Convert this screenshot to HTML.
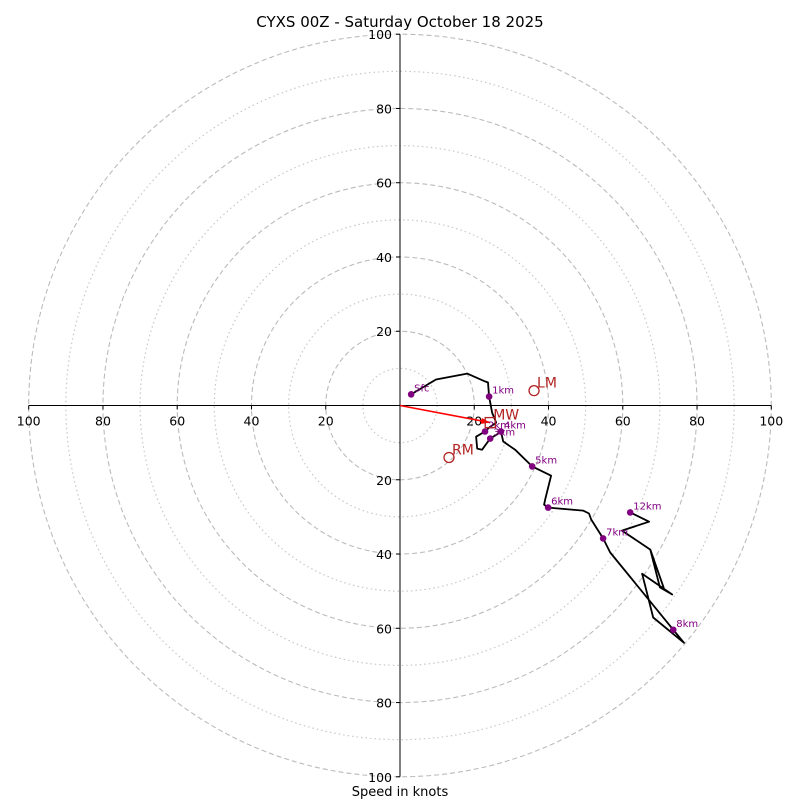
<!DOCTYPE html>
<html><head><meta charset="utf-8"><style>
body{margin:0;background:#fff}
svg{font-family:"DejaVu Sans","Liberation Sans",sans-serif}
</style></head><body>
<svg id="c" width="800" height="800" viewBox="0 0 800 800">
<text x="400" y="27" font-size="15" text-anchor="middle">CYXS 00Z - Saturday October 18 2025</text>
<text x="400" y="796" font-size="13" text-anchor="middle">Speed in knots</text>
<g id="grid"></g><g id="axes"></g><g id="marks"></g>
</svg>
<script>
const pathU=[3.0,9.7,18.1,22.9,23.7,24.0,24.8,25.9,24.3,22.9,20.5,20.8,22.1,24.3,26.1,27.2,27.8,31.0,35.6,40.7,39.1,38.8,39.9,49.3,50.9,51.5,54.7,56.6,73.6,76.5,68.2,65.2,73.3,70.0,67.4,71.0,67.4,59.8,67.1,62.0];
const pathV=[3.0,7.0,8.6,6.5,6.2,2.4,-1.9,-4.6,-5.7,-7.0,-8.4,-11.6,-11.9,-8.9,-7.8,-7.0,-9.7,-11.9,-16.4,-18.9,-25.3,-26.7,-27.5,-28.3,-29.1,-30.7,-35.8,-39.6,-60.4,-63.9,-57.1,-45.3,-50.9,-49.0,-38.8,-49.0,-38.8,-33.7,-31.3,-28.8];
const ptLabels=["Sfc","1km","2km","3km","4km","5km","6km","7km","8km","12km"];
const ptU=[3.0,24.0,22.9,24.3,27.2,35.6,39.9,54.7,73.6,62.0];
const ptV=[3.0,2.4,-7.0,-8.9,-7.0,-16.4,-27.5,-35.8,-60.4,-28.8];
const motionLabels=["LM","MW","RM"];
const motionU=[36.1,24.3,13.2];
const motionV=[4.0,-4.6,-14.0];
const ringsMajor=[20,40,60,80,100];
const ringsMinor=[10,30,50,70,90];
const tickVals=[-100,-80,-60,-40,-20,20,40,60,80,100];

const NS="http://www.w3.org/2000/svg";
const cx=400,cy=405.5,s=3.713;
const X=u=>cx+u*s, Y=v=>cy-v*s;
function mk(t,a,p){const e=document.createElementNS(NS,t);for(const k in a)e.setAttribute(k,a[k]);p.appendChild(e);return e;}
const grid=document.getElementById('grid'),axes=document.getElementById('axes'),marks=document.getElementById('marks');
ringsMinor.forEach(r=>{const e=mk('circle',{cx:cx,cy:cy,r:r*s,fill:'none',stroke:'#c8c8c8','stroke-width':1.2,'stroke-dasharray':'1.5,3'},grid);

});
ringsMajor.forEach(r=>{const e=mk('circle',{cx:cx,cy:cy,r:r*s,fill:'none',stroke:'#bbbbbb','stroke-width':1.1,'stroke-dasharray':'5,3'},grid);

});
let a=mk('line',{x1:X(-100),y1:cy,x2:X(100),y2:cy,stroke:'#000','stroke-width':1},axes);


a=mk('line',{x1:cx,y1:Y(100),x2:cx,y2:Y(-100),stroke:'#000','stroke-width':1},axes);


tickVals.forEach(t=>{
 mk('line',{x1:X(t),y1:cy,x2:X(t),y2:cy+4,stroke:'#000'},axes);
 let e=mk('text',{x:X(t),y:cy+20,'font-size':12.5,'text-anchor':'middle'},axes);e.textContent=Math.abs(t);
 
 
 mk('line',{x1:cx-4,y1:Y(t),x2:cx,y2:Y(t),stroke:'#000'},axes);
 e=mk('text',{x:cx-8,y:Y(t)+5,'font-size':12.5,'text-anchor':'end'},axes);e.textContent=Math.abs(t);
 
 
});
let d=pathU.map((u,i)=>(i?'L':'M')+X(u).toFixed(1)+','+Y(pathV[i]).toFixed(1)).join('');
let p=mk('path',{d:d,fill:'none',stroke:'#000','stroke-width':1.8,'stroke-linejoin':'round'},marks);


const mx=X(motionU[1]),my=Y(motionV[1]);
p=mk('line',{x1:cx,y1:cy,x2:mx,y2:my,stroke:'red','stroke-width':1.6},marks);


const ang=Math.atan2(my-cy,mx-cx);
mk('path',{d:`M${mx},${my}L${mx-9*Math.cos(ang)+3*Math.sin(ang)},${my-9*Math.sin(ang)-3*Math.cos(ang)}L${mx-9*Math.cos(ang)-3*Math.sin(ang)},${my-9*Math.sin(ang)+3*Math.cos(ang)}Z`,fill:'red'},marks);
ptLabels.forEach((l,i)=>{
 let e=mk('circle',{cx:X(ptU[i]),cy:Y(ptV[i]),r:3.3,fill:'purple'},marks);
 
 
 e=mk('text',{x:X(ptU[i])+3,y:Y(ptV[i])-3,'font-size':10,fill:'purple'},marks);e.textContent=l;
 
 
});
motionLabels.forEach((l,i)=>{
 const x=X(motionU[i]),y=Y(motionV[i]);
 let e;
 if(l==='MW') e=mk('rect',{x:x-5,y:y-5,width:10,height:10,fill:'none',stroke:'#b22222','stroke-width':1.3},marks);
 else e=mk('circle',{cx:x,cy:y,r:5,fill:'none',stroke:'#b22222','stroke-width':1.3},marks);
 
 
 e=mk('text',{x:x+3,y:y-3,'font-size':14,fill:'#b22222'},marks);e.textContent=l;
 
 
});
</script>
</body></html>
